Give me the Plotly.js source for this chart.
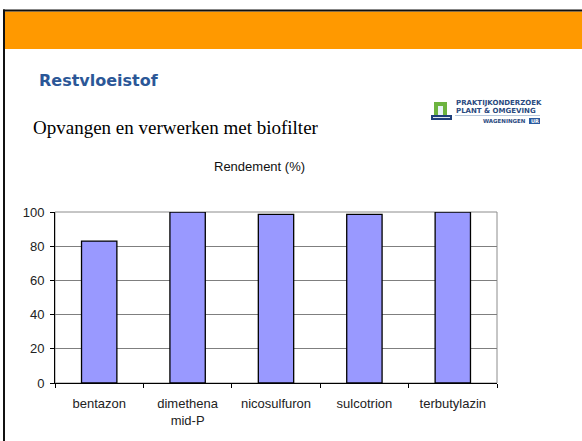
<!DOCTYPE html>
<html>
<head>
<meta charset="utf-8">
<script src="https://cdn.plot.ly/plotly-3.0.1.min.js"></script>
<style>html,body{margin:0;padding:0;background:#fff;}#chart{width:582px;height:441px;}</style>
</head>
<body>
<div id="chart"></div>
<script>
// ---- data ----
var categories = ['bentazon', 'dimethena<br>mid-P', 'nicosulfuron', 'sulcotrion', 'terbutylazin'];
var rendement = [83, 100, 98.6, 98.6, 99.9];
var yTickVals = [0, 20, 40, 60, 80, 100];
var chartTitle = 'Rendement (%)';
var slideTitle = 'Restvloeistof';
var slideSubtitle = 'Opvangen en verwerken met biofilter';

// ---- geometry helpers (pixel -> paper) ----
var W = 582, H = 441;
var L = 55, R = 497, T = 212, B = 383;
function px(x) { return (x - L) / (R - L); }
function py(y) { return (B - y) / (B - T); }

var shapes = [
  {type: 'rect', xref: 'paper', yref: 'paper', x0: px(5), x1: px(583), y0: py(49), y1: py(11.5), fillcolor: '#ff9900', line: {width: 0}, layer: 'below'},
  {type: 'line', xref: 'paper', yref: 'paper', x0: px(3), x1: px(583), y0: py(10.5), y1: py(10.5), line: {color: '#111', width: 2}},
  {type: 'line', xref: 'paper', yref: 'paper', x0: px(4), x1: px(4), y0: py(9.5), y1: py(442), line: {color: '#111', width: 2}},
  {type: 'rect', xref: 'paper', yref: 'paper', x0: 0, x1: 1, y0: 0, y1: 1, line: {color: '#8c8c8c', width: 1}, layer: 'below'},
  {type: 'rect', xref: 'paper', yref: 'paper', x0: px(434), x1: px(447), y0: py(115), y1: py(102), fillcolor: '#6db33f', line: {width: 0}},
  {type: 'rect', xref: 'paper', yref: 'paper', x0: px(438), x1: px(443), y0: py(115), y1: py(106), fillcolor: '#e8f2f8', line: {width: 0}},
  {type: 'rect', xref: 'paper', yref: 'paper', x0: px(431), x1: px(452), y0: py(120), y1: py(115), fillcolor: '#1f3f7a', line: {width: 0}},
  {type: 'line', xref: 'paper', yref: 'paper', x0: px(433), x1: px(450), y0: py(117.5), y1: py(117.5), line: {color: '#dfe8f2', width: 1}},
  {type: 'line', xref: 'paper', yref: 'paper', x0: px(455), x1: px(540), y0: py(115.5), y1: py(115.5), line: {color: '#b8c8dc', width: 1}},
  {type: 'rect', xref: 'paper', yref: 'paper', x0: px(529), x1: px(540), y0: py(124), y1: py(118), fillcolor: '#2a5aa0', line: {width: 0}}
];

var annotations = [
  {xref: 'paper', yref: 'paper', x: px(259), y: py(166), text: chartTitle, showarrow: false, xanchor: 'center', yanchor: 'middle', font: {family: 'Liberation Sans, Arial', size: 13, color: '#111'}},
  {xref: 'paper', yref: 'paper', x: px(37), y: py(80), text: '<b>' + slideTitle + '</b>', showarrow: false, xanchor: 'left', yanchor: 'middle', font: {family: 'DejaVu Sans, Verdana', size: 16, color: '#2b5797'}},
  {xref: 'paper', yref: 'paper', x: px(31), y: py(127), text: slideSubtitle, showarrow: false, xanchor: 'left', yanchor: 'middle', font: {family: 'Liberation Serif, Times New Roman', size: 19, color: '#000'}},
  {xref: 'paper', yref: 'paper', x: px(454), y: py(103.5), text: '<b>PRAKTIJKONDERZOEK</b>', showarrow: false, xanchor: 'left', yanchor: 'middle', font: {family: 'DejaVu Sans', size: 7, color: '#2a4a80'}},
  {xref: 'paper', yref: 'paper', x: px(454), y: py(110.5), text: '<b>PLANT &amp; OMGEVING</b>', showarrow: false, xanchor: 'left', yanchor: 'middle', font: {family: 'DejaVu Sans', size: 7, color: '#2a4a80'}},
  {xref: 'paper', yref: 'paper', x: px(528), y: py(121), text: '<b>WAGENINGEN</b>', showarrow: false, xanchor: 'right', yanchor: 'middle', font: {family: 'DejaVu Sans', size: 5.5, color: '#2a4a80'}},
  {xref: 'paper', yref: 'paper', x: px(534.5), y: py(121), text: '<b>UR</b>', showarrow: false, xanchor: 'center', yanchor: 'middle', font: {family: 'DejaVu Sans', size: 5, color: '#ffffff'}}
];

var trace = {
  type: 'bar',
  x: categories,
  y: rendement,
  width: 0.4,
  marker: {color: '#9999ff', line: {color: '#000', width: 1.3}},
  hoverinfo: 'x+y'
};

var layout = {
  width: W, height: H,
  margin: {l: L, r: W - R, t: T, b: H - B, pad: 0},
  paper_bgcolor: '#ffffff',
  plot_bgcolor: '#ffffff',
  showlegend: false,
  font: {family: 'Liberation Sans, Arial', size: 13, color: '#222'},
  xaxis: {
    type: 'category',
    tickson: 'boundaries',
    ticks: 'outside', ticklen: 4, tickcolor: '#000', tickwidth: 1,
    showline: true, linecolor: '#000', linewidth: 1,
    showgrid: false, zeroline: false,
    ticklabelstandoff: 8,
    tickfont: {family: 'Liberation Sans, Arial', size: 13, color: '#222'},
    fixedrange: true
  },
  yaxis: {
    range: [0, 100],
    tickvals: yTickVals,
    ticks: 'outside', ticklen: 4, tickcolor: '#000', tickwidth: 1,
    showline: true, linecolor: '#000', linewidth: 1,
    showgrid: true, gridcolor: '#7f7f7f', gridwidth: 1,
    zeroline: false,
    ticklabelstandoff: 3,
    tickfont: {family: 'Liberation Sans, Arial', size: 13, color: '#222'},
    fixedrange: true
  },
  shapes: shapes,
  annotations: annotations
};

Plotly.newPlot('chart', [trace], layout, {displayModeBar: false, staticPlot: true});
</script>
</body>
</html>
